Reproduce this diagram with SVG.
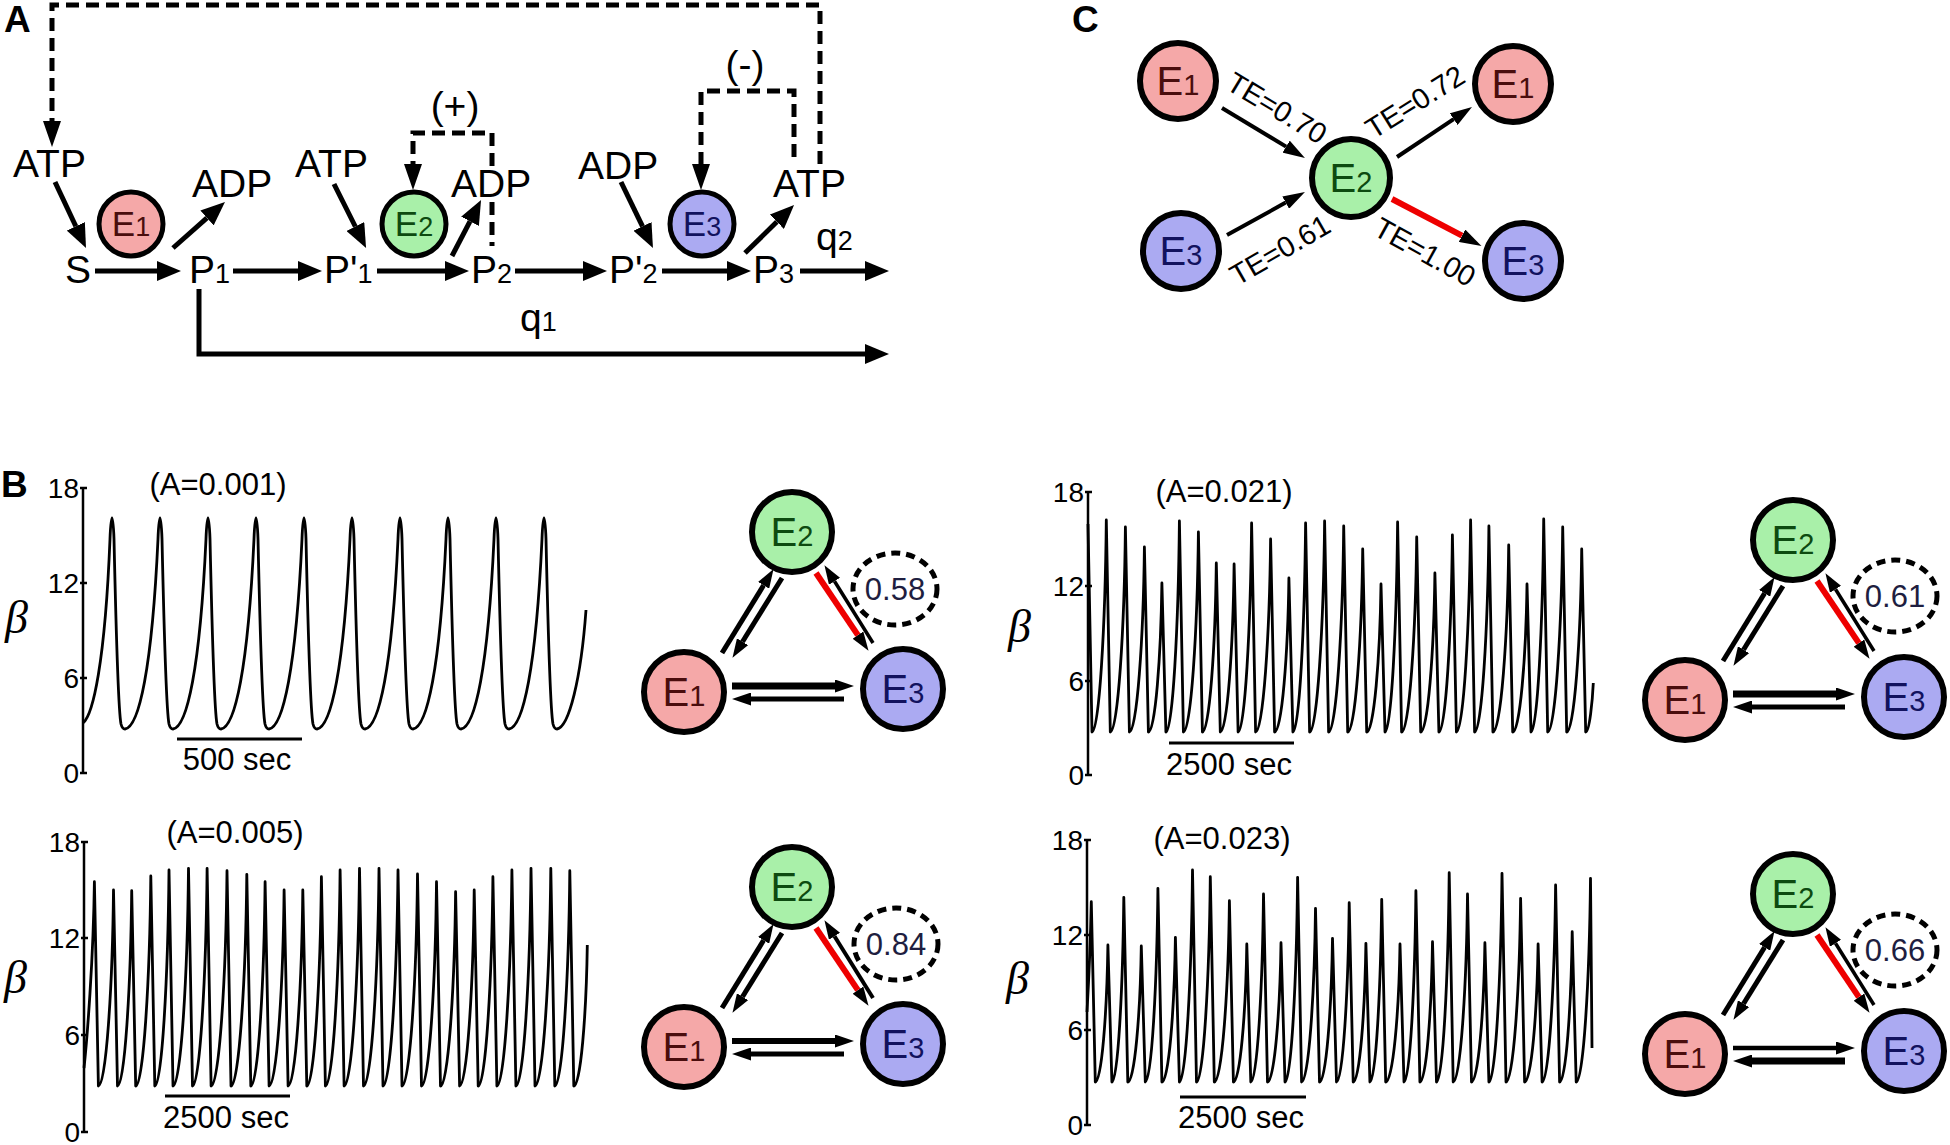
<svg xmlns="http://www.w3.org/2000/svg" width="1950" height="1145" viewBox="0 0 1950 1145">
<style>
text{font-family:"Liberation Sans",Arial,sans-serif;fill:#000}
.lbl{font-weight:bold;font-size:37px}
.ta{font-size:39px}
.sub{font-size:27px}
.n{stroke:#000;stroke-width:6}
.na{stroke:#000;stroke-width:5}
.f1{fill:#f5a8a8}.f2{fill:#a9f0a9}.f3{fill:#abaaf2}
.t1{fill:#4a0d0d}.t2{fill:#0d4a10}.t3{fill:#12125e}
.en{font-size:40px}
.es{font-size:29px}
.sa{stroke:#000;stroke-width:5;fill:none;marker-end:url(#ha)}
.da{stroke:#000;stroke-width:5;fill:none;stroke-dasharray:13 7}
.ca{stroke:#000;stroke-width:4;fill:none;marker-end:url(#hc)}
.ba{stroke:#000;fill:none;marker-end:url(#hs)}
.red{stroke:#ee0000;stroke-width:6;fill:none}
.te{font-size:29px}
.ax{stroke:#000;stroke-width:2.5;fill:none}
.wave{stroke:#000;stroke-width:2.8;fill:none;stroke-linejoin:round}
.tk{font-size:28px;text-anchor:end}
.beta{font-family:"Liberation Serif","Times New Roman",serif;font-style:italic;font-size:46px}
.amp{font-size:31px;text-anchor:middle}
.sc{font-size:31px;text-anchor:middle}
.el{fill:none;stroke:#000;stroke-width:5;stroke-dasharray:9 6}
.val{font-size:31px;text-anchor:middle;fill:#1e1e40}
</style>
<defs>
<marker id="ha" viewBox="0 0 24 20" markerWidth="24" markerHeight="20" refX="0" refY="10" orient="auto" markerUnits="userSpaceOnUse"><path d="M0,0 L24,10 L0,20 z" fill="#000"/></marker>
<marker id="hd" viewBox="0 0 26 18" markerWidth="26" markerHeight="18" refX="0" refY="9" orient="auto" markerUnits="userSpaceOnUse"><path d="M0,0 L26,9 L0,18 z" fill="#000"/></marker>
<marker id="hc" viewBox="0 0 22 14" markerWidth="22" markerHeight="14" refX="0" refY="7" orient="auto" markerUnits="userSpaceOnUse"><path d="M0,0 L22,7 L0,14 z" fill="#000"/></marker>
<marker id="hs" viewBox="0 0 19 13" markerWidth="19" markerHeight="13" refX="0" refY="6.5" orient="auto" markerUnits="userSpaceOnUse"><path d="M0,0 L19,6.5 L0,13 z" fill="#000"/></marker>
</defs>
<rect width="1950" height="1145" fill="#fff"/>

<!-- Panel labels -->
<text class="lbl" x="4" y="32">A</text>
<text class="lbl" x="1" y="497">B</text>
<text class="lbl" x="1072" y="32">C</text>

<!-- ================= Panel A ================= -->
<g id="A-connectors">
<path class="sa" d="M55,182 L75.8,226.3"/>
<path class="sa" d="M173,248 L207,217.9"/>
<path class="sa" d="M95,271 L157,271"/>
<path class="sa" d="M233,271 L298,271"/>
<path class="sa" d="M377,271 L445,271"/>
<path class="sa" d="M515,271 L583,271"/>
<path class="sa" d="M662,271 L727,271"/>
<path class="sa" d="M800,271 L865,271"/>
<path class="sa" d="M199,289 V354 H865"/>
<path class="sa" d="M334,184 L355.3,226.5"/>
<path class="sa" d="M452,256 L470,221.3"/>
<path class="sa" d="M621,182 L642.5,226.4"/>
<path class="sa" d="M745,253 L776.9,221.8"/>
<path class="da" d="M820,164 V5 H52 V121" marker-end="url(#hd)"/>
<path class="da" d="M492,166 V133 H413 V164" marker-end="url(#hd)"/>
<path class="da" d="M492,202 V246"/>
<path class="da" d="M794,157 V91 H701 V164" marker-end="url(#hd)"/>
</g>
<g id="A-E1"><circle class="na f1" cx="131" cy="224" r="32"/><text class="t1" x="131" y="236" text-anchor="middle" font-size="35">E<tspan font-size="27">1</tspan></text></g>
<g id="A-E2"><circle class="na f2" cx="414" cy="224" r="32"/><text class="t2" x="414" y="236" text-anchor="middle" font-size="35">E<tspan font-size="27">2</tspan></text></g>
<g id="A-E3"><circle class="na f3" cx="702" cy="224" r="32"/><text class="t3" x="702" y="236" text-anchor="middle" font-size="35">E<tspan font-size="27">3</tspan></text></g>
<g id="A-labels">
<text class="ta" x="13" y="177">ATP</text>
<text class="ta" x="192" y="197">ADP</text>
<text class="ta" x="295" y="177">ATP</text>
<text class="ta" x="451" y="197">ADP</text>
<text class="ta" x="578" y="179">ADP</text>
<text class="ta" x="773" y="197">ATP</text>
<text class="ta" x="65" y="283">S</text>
<text class="ta" x="189" y="283">P<tspan class="sub">1</tspan></text>
<text class="ta" x="324" y="283">P'<tspan class="sub">1</tspan></text>
<text class="ta" x="471" y="283">P<tspan class="sub">2</tspan></text>
<text class="ta" x="609" y="283">P'<tspan class="sub">2</tspan></text>
<text class="ta" x="753" y="283">P<tspan class="sub">3</tspan></text>
<text class="ta" x="816" y="250">q<tspan class="sub">2</tspan></text>
<text class="ta" x="520" y="331">q<tspan class="sub">1</tspan></text>
<text class="ta" x="455" y="119" text-anchor="middle">(+)</text>
<text class="ta" x="745" y="78" text-anchor="middle">(-)</text>
</g>

<!-- ================= Panel C ================= -->
<g id="C-connectors">
<path class="ca" d="M1222,108 L1286.1,146.6"/>
<path class="ca" d="M1227,235 L1285.7,202.6"/>
<path class="ca" d="M1397,157 L1453.7,119.2"/>
<path class="red" d="M1392,199 L1462,235.7" marker-end="url(#hc)"/>
</g>
<g id="C-E1a"><circle class="n f1" cx="1178" cy="81" r="38"/><text class="t1 en" x="1178" y="95" text-anchor="middle">E<tspan class="es">1</tspan></text></g>
<g id="C-E3a"><circle class="n f3" cx="1181" cy="251" r="38"/><text class="t3 en" x="1181" y="265" text-anchor="middle">E<tspan class="es">3</tspan></text></g>
<g id="C-E2"><circle class="n f2" cx="1351" cy="178" r="39"/><text class="t2 en" x="1351" y="192" text-anchor="middle">E<tspan class="es">2</tspan></text></g>
<g id="C-E1b"><circle class="n f1" cx="1513" cy="84" r="38"/><text class="t1 en" x="1513" y="98" text-anchor="middle">E<tspan class="es">1</tspan></text></g>
<g id="C-E3b"><circle class="n f3" cx="1523" cy="261" r="38"/><text class="t3 en" x="1523" y="275" text-anchor="middle">E<tspan class="es">3</tspan></text></g>
<g id="C-labels">
<text class="te" text-anchor="middle" transform="translate(1277,108) rotate(31)" x="0" y="10">TE=0.70</text>
<text class="te" text-anchor="middle" transform="translate(1415,102) rotate(-32)" x="0" y="10">TE=0.72</text>
<text class="te" text-anchor="middle" transform="translate(1280,250) rotate(-30)" x="0" y="10">TE=0.61</text>
<text class="te" text-anchor="middle" transform="translate(1425,252) rotate(29)" x="0" y="10">TE=1.00</text>
</g>

<!-- ================= Panel B1 ================= -->
<g id="B1-plot">
<path class="ax" d="M83,488 V773 M80,488 H87 M80,583 H87 M80,678 H87 M80,773 H87"/>
<text class="tk" x="79" y="498">18</text><text class="tk" x="79" y="593">12</text><text class="tk" x="79" y="688">6</text><text class="tk" x="79" y="783">0</text>
<text class="beta" x="5" y="633">β</text>
<text class="amp" x="218" y="495">(A=0.001)</text>
<path class="wave" d="M83,723 c10,-8 22,-60 27,-184 c1,-28 3,-28 4,0 c2,90 4,170 7,185 c1,4 3,5 4,5
c14,-2 27,-60 33,-190 c1,-28 3,-28 4,0 c2,90 4,170 7,185 c1,4 3,5 4,5
c14,-2 27,-60 33,-190 c1,-28 3,-28 4,0 c2,90 4,170 7,185 c1,4 3,5 4,5
c14,-2 27,-60 33,-190 c1,-28 3,-28 4,0 c2,90 4,170 7,185 c1,4 3,5 4,5
c14,-2 27,-60 33,-190 c1,-28 3,-28 4,0 c2,90 4,170 7,185 c1,4 3,5 4,5
c14,-2 27,-60 33,-190 c1,-28 3,-28 4,0 c2,90 4,170 7,185 c1,4 3,5 4,5
c14,-2 27,-60 33,-190 c1,-28 3,-28 4,0 c2,90 4,170 7,185 c1,4 3,5 4,5
c14,-2 27,-60 33,-190 c1,-28 3,-28 4,0 c2,90 4,170 7,185 c1,4 3,5 4,5
c14,-2 27,-60 33,-190 c1,-28 3,-28 4,0 c2,90 4,170 7,185 c1,4 3,5 4,5
c14,-2 27,-60 33,-190 c1,-28 3,-28 4,0 c2,90 4,170 7,185 c1,4 3,5 4,5
c12,-2 24,-50 29,-119"/>
<path d="M177,739 H302" stroke="#000" stroke-width="3"/>
<text class="sc" x="237" y="770">500 sec</text>
</g>

<!-- ================= Panel B2 ================= -->
<g id="B2-plot">
<path class="ax" d="M1088,492 V775 M1085,492 H1092 M1085,586 H1092 M1085,681 H1092 M1085,775 H1092"/>
<text class="tk" x="1084" y="502">18</text><text class="tk" x="1084" y="596">12</text><text class="tk" x="1084" y="691">6</text><text class="tk" x="1084" y="785">0</text>
<text class="beta" x="1008" y="642">β</text>
<text class="amp" x="1224" y="502">(A=0.021)</text>
<path class="wave" d="M1088,524 L1092,732
C1099.2,732 1105.3,626 1106.3,520 L1110.3,732
C1117.9,732 1124.4,629.5 1125.4,527 L1129.4,732
C1136.9,732 1143.4,639.5 1144.4,547 L1148.4,732
C1155.2,732 1160.9,657.5 1161.9,583 L1165.9,732
C1172.7,732 1178.4,626.5 1179.4,521 L1183.4,732
C1190.9,732 1197.4,632 1198.4,532 L1202.4,732
C1209.4,732 1215.3,647.5 1216.3,563 L1220.3,732
C1227.2,732 1233.1,648 1234.1,564 L1238.1,732
C1244.9,732 1250.6,627.5 1251.6,523 L1255.6,732
C1263.1,732 1269.6,635.5 1270.6,539 L1274.6,732
C1281.8,732 1287.9,655 1288.9,578 L1292.9,732
C1299.3,732 1304.6,627.5 1305.6,523 L1309.6,732
C1317.1,732 1323.6,626.5 1324.6,521 L1328.6,732
C1336.2,732 1342.7,629 1343.7,526 L1347.7,732
C1355.2,732 1361.7,640.5 1362.7,549 L1366.7,732
C1373.9,732 1380,658 1381,584 L1385,732
C1391.3,732 1396.6,627 1397.6,522 L1401.6,732
C1409.2,732 1415.7,634.5 1416.7,537 L1420.7,732
C1427.8,732 1433.9,652.5 1434.9,573 L1438.9,732
C1445.7,732 1451.4,633.5 1452.4,535 L1456.4,732
C1463.5,732 1469.6,626 1470.6,520 L1474.6,732
C1481.8,732 1487.9,629 1488.9,526 L1492.9,732
C1500.8,732 1507.7,638.5 1508.7,545 L1512.7,732
C1519.9,732 1526,658 1527,584 L1531,732
C1537.4,732 1542.7,625.5 1543.7,519 L1547.7,732
C1555.2,732 1561.7,629.5 1562.7,527 L1566.7,732
C1574.2,732 1580.7,640.5 1581.7,549 L1585.7,732
C1589.5,732 1592.5,700 1593.3,683"/>
<path d="M1169,743 H1294" stroke="#000" stroke-width="3"/>
<text class="sc" x="1229" y="775">2500 sec</text>
</g>

<!-- ================= Panel B3 ================= -->
<g id="B3-plot">
<path class="ax" d="M84,842 V1132 M81,842 H88 M81,938 H88 M81,1035 H88 M81,1132 H88"/>
<text class="tk" x="80" y="852">18</text><text class="tk" x="80" y="948">12</text><text class="tk" x="80" y="1045">6</text><text class="tk" x="80" y="1142">0</text>
<text class="beta" x="4" y="993">β</text>
<text class="amp" x="235" y="843">(A=0.005)</text>
<path class="wave" d="M84,1068 C87,1040 93.4,960 94.4,881.7 L98.4,1086
C106,1086 112.5,988 113.5,890 L117.5,1086
C124.6,1086 130.7,988.4 131.7,890.7 L135.7,1086
C143.3,1086 149.8,981 150.8,876 L154.8,1086
C161.9,1086 168,978 169,870 L173,1086
C180.8,1086 187.5,977.2 188.5,868.3 L192.5,1086
C199.8,1086 206.1,977.2 207.1,868.3 L211.1,1086
C219.1,1086 226,978.4 227,870.7 L231,1086
C238.9,1086 245.8,980.2 246.8,874.3 L250.8,1086
C258,1086 264.1,983.9 265.1,881.7 L269.1,1086
C276.6,1086 283.1,988 284.1,890 L288.1,1086
C295.5,1086 301.8,988 302.8,890 L306.8,1086
C314.1,1086 320.4,981.4 321.4,876.7 L325.4,1086
C332.8,1086 339.1,978 340.1,870 L344.1,1086
C351.8,1086 358.5,977.2 359.5,868.3 L363.5,1086
C371.3,1086 378,977.2 379,868.3 L383,1086
C390.5,1086 397,978 398,870 L402,1086
C409.8,1086 416.5,980 417.5,874 L421.5,1086
C429,1086 435.5,983.9 436.5,881.7 L440.5,1086
C448.1,1086 454.6,988.9 455.6,891.7 L459.6,1086
C466.9,1086 473.2,988 474.2,890 L478.2,1086
C485.6,1086 491.9,981.4 492.9,876.7 L496.9,1086
C504.4,1086 510.9,978 511.9,870 L515.9,1086
C523.5,1086 530,977.2 531,868.3 L535,1086
C542.9,1086 549.8,977.2 550.8,868.3 L554.8,1086
C562.3,1086 568.8,978.4 569.8,870.7 L573.8,1086
C580.6,1086 586.3,1015 587.3,945"/>
<path d="M165,1096 H290" stroke="#000" stroke-width="3"/>
<text class="sc" x="226" y="1128">2500 sec</text>
</g>

<!-- ================= Panel B4 ================= -->
<g id="B4-plot">
<path class="ax" d="M1087,840 V1125 M1084,840 H1091 M1084,935 H1091 M1084,1030 H1091 M1084,1125 H1091"/>
<text class="tk" x="1083" y="850">18</text><text class="tk" x="1083" y="945">12</text><text class="tk" x="1083" y="1040">6</text><text class="tk" x="1083" y="1135">0</text>
<text class="beta" x="1006" y="994">β</text>
<text class="amp" x="1222" y="849">(A=0.023)</text>
<path class="wave" d="M1087,1012 C1088.5,985 1090.3,950 1091.3,901.7 L1095.3,1082
C1101.6,1082 1106.9,1013.5 1107.9,945 L1111.9,1082
C1117.9,1082 1122.8,989.7 1123.8,897.3 L1127.8,1082
C1134.6,1082 1140.3,1014 1141.3,946 L1145.3,1082
C1151.6,1082 1156.9,985.2 1157.9,888.3 L1161.9,1082
C1168.7,1082 1174.4,1009.7 1175.4,937.3 L1179.4,1082
C1186,1082 1191.5,976 1192.5,870 L1196.5,1082
C1203.4,1082 1209.3,979.4 1210.3,876.7 L1214.3,1082
C1221.9,1082 1228.4,991.4 1229.4,900.7 L1233.4,1082
C1240.1,1082 1245.8,1013 1246.8,944 L1250.8,1082
C1257.2,1082 1262.5,988 1263.5,894 L1267.5,1082
C1274.3,1082 1280,1012.4 1281,942.7 L1285,1082
C1291.3,1082 1296.6,979.7 1297.6,877.3 L1301.6,1082
C1308.6,1082 1314.5,995.2 1315.5,908.3 L1319.5,1082
C1326,1082 1331.5,1010.2 1332.5,938.3 L1336.5,1082
C1342.9,1082 1348.2,992.4 1349.2,902.7 L1353.2,1082
C1359.6,1082 1364.9,1012.7 1365.9,943.3 L1369.9,1082
C1375.8,1082 1380.7,990.7 1381.7,899.3 L1385.7,1082
C1392.9,1082 1399,1013 1400,944 L1404,1082
C1410,1082 1414.9,986.4 1415.9,890.7 L1419.9,1082
C1426.2,1082 1431.5,1011.9 1432.5,941.7 L1436.5,1082
C1442.9,1082 1448.2,977.4 1449.2,872.7 L1453.2,1082
C1460.4,1082 1466.5,988 1467.5,894 L1471.5,1082
C1478.2,1082 1483.9,1012.4 1484.9,942.7 L1488.9,1082
C1495.5,1082 1501,977.7 1502,873.3 L1506,1082
C1513.3,1082 1519.6,990.2 1520.6,898.3 L1524.6,1082
C1531.4,1082 1537.1,1013 1538.1,944 L1542.1,1082
C1548.9,1082 1554.6,983.5 1555.6,885 L1559.6,1082
C1565.9,1082 1571.2,1006.9 1572.2,931.7 L1576.2,1082
C1583.4,1082 1589.5,980.2 1590.5,878.3 L1592,1048"/>
<path d="M1180,1097 H1306" stroke="#000" stroke-width="3"/>
<text class="sc" x="1241" y="1128">2500 sec</text>
</g>

<!-- ================= Networks ================= -->
<g id="B1-connectors">
<path class="ba" stroke-width="5" d="M722,653 L763.6,585.3"/>
<path class="ba" stroke-width="5" d="M782,578 L742.5,641.7"/>
<path class="red" d="M816,573 L857.9,635.1" marker-end="url(#hs)"/>
<path class="ba" stroke-width="3.5" d="M873,643 L834.5,581.3"/>
<path class="ba" stroke-width="7" d="M732,686 L835,686"/>
<path class="ba" stroke-width="5" d="M844,699 L751,699"/>
</g>
<g id="B1-E2"><circle class="n f2" cx="792" cy="532" r="40"/><text class="t2 en" x="792" y="546" text-anchor="middle">E<tspan class="es">2</tspan></text></g>
<g id="B1-E1"><circle class="n f1" cx="684" cy="692" r="40"/><text class="t1 en" x="684" y="706" text-anchor="middle">E<tspan class="es">1</tspan></text></g>
<g id="B1-E3"><circle class="n f3" cx="903" cy="689" r="40"/><text class="t3 en" x="903" y="703" text-anchor="middle">E<tspan class="es">3</tspan></text></g>
<g id="B1-value"><ellipse class="el" cx="895" cy="589" rx="42" ry="36"/><text class="val" x="895" y="600">0.58</text></g>

<g id="B2-connectors">
<path class="ba" stroke-width="5" d="M1723,661 L1764.6,593.3"/>
<path class="ba" stroke-width="5" d="M1783,586 L1743.5,649.7"/>
<path class="red" d="M1817,581 L1858.9,643.1" marker-end="url(#hs)"/>
<path class="ba" stroke-width="3.5" d="M1874,651 L1835.5,589.3"/>
<path class="ba" stroke-width="7" d="M1733,694 L1836,694"/>
<path class="ba" stroke-width="5" d="M1845,707 L1752,707"/>
</g>
<g id="B2-E2"><circle class="n f2" cx="1793" cy="540" r="40"/><text class="t2 en" x="1793" y="554" text-anchor="middle">E<tspan class="es">2</tspan></text></g>
<g id="B2-E1"><circle class="n f1" cx="1685" cy="700" r="40"/><text class="t1 en" x="1685" y="714" text-anchor="middle">E<tspan class="es">1</tspan></text></g>
<g id="B2-E3"><circle class="n f3" cx="1904" cy="697" r="40"/><text class="t3 en" x="1904" y="711" text-anchor="middle">E<tspan class="es">3</tspan></text></g>
<g id="B2-value"><ellipse class="el" cx="1895" cy="596" rx="42" ry="36"/><text class="val" x="1895" y="607">0.61</text></g>

<g id="B3-connectors">
<path class="ba" stroke-width="5" d="M722,1008 L763.6,940.3"/>
<path class="ba" stroke-width="5" d="M782,933 L742.5,996.7"/>
<path class="red" d="M816,928 L857.9,990.1" marker-end="url(#hs)"/>
<path class="ba" stroke-width="4" d="M873,998 L834.5,936.3"/>
<path class="ba" stroke-width="6" d="M732,1041 L835,1041"/>
<path class="ba" stroke-width="5" d="M844,1054 L751,1054"/>
</g>
<g id="B3-E2"><circle class="n f2" cx="792" cy="887" r="40"/><text class="t2 en" x="792" y="901" text-anchor="middle">E<tspan class="es">2</tspan></text></g>
<g id="B3-E1"><circle class="n f1" cx="684" cy="1047" r="40"/><text class="t1 en" x="684" y="1061" text-anchor="middle">E<tspan class="es">1</tspan></text></g>
<g id="B3-E3"><circle class="n f3" cx="903" cy="1044" r="40"/><text class="t3 en" x="903" y="1058" text-anchor="middle">E<tspan class="es">3</tspan></text></g>
<g id="B3-value"><ellipse class="el" cx="896" cy="944" rx="42" ry="36"/><text class="val" x="896" y="955">0.84</text></g>

<g id="B4-connectors">
<path class="ba" stroke-width="5" d="M1723,1015 L1764.6,947.3"/>
<path class="ba" stroke-width="5" d="M1783,940 L1743.5,1003.7"/>
<path class="red" d="M1817,935 L1858.9,997.1" marker-end="url(#hs)"/>
<path class="ba" stroke-width="3.5" d="M1874,1005 L1835.5,943.3"/>
<path class="ba" stroke-width="4.5" d="M1733,1048 L1836,1048"/>
<path class="ba" stroke-width="7" d="M1845,1061 L1752,1061"/>
</g>
<g id="B4-E2"><circle class="n f2" cx="1793" cy="894" r="40"/><text class="t2 en" x="1793" y="908" text-anchor="middle">E<tspan class="es">2</tspan></text></g>
<g id="B4-E1"><circle class="n f1" cx="1685" cy="1054" r="40"/><text class="t1 en" x="1685" y="1068" text-anchor="middle">E<tspan class="es">1</tspan></text></g>
<g id="B4-E3"><circle class="n f3" cx="1904" cy="1051" r="40"/><text class="t3 en" x="1904" y="1065" text-anchor="middle">E<tspan class="es">3</tspan></text></g>
<g id="B4-value"><ellipse class="el" cx="1895" cy="950" rx="42" ry="36"/><text class="val" x="1895" y="961">0.66</text></g>
</svg>
